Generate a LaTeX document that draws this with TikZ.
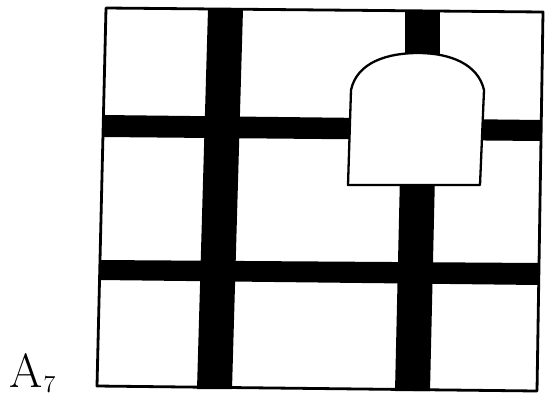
\documentclass[tikz,border=0pt]{standalone}
\begin{document}
\begin{tikzpicture}[x=1pt,y=-1pt,
  bar/.style={fill=black,draw=none},
  outline/.style={draw=black,line width=2.8pt,line join=round}]
\useasboundingbox (0,0) rectangle (545,400);
% frame interior
\fill[white] (106,8) -- (543,12) -- (537,391) -- (97,386) -- cycle;
% bars
\fill[bar] (208,9) -- (243,9) -- (232,389) -- (197,389) -- cycle;
\fill[bar] (405,10) -- (440,10) -- (440,70) -- (405,70) -- cycle;
\fill[bar] (400,175) -- (435,175) -- (430,391) -- (395,391) -- cycle;
\fill[bar] (103,115) -- (542,120) -- (541,141) -- (103,137) -- cycle;
\fill[bar] (99,260) -- (540,263) -- (539,285) -- (99,280) -- cycle;
% arch
\draw[fill=white,draw=black,line width=2.3pt,line join=round]
  (348,185) -- (351,90) .. controls (357,62) and (388,53) .. (418,53)
  .. controls (450,53) and (478,64) .. (484,90) -- (480,185) -- cycle;
% frame
\draw[outline] (106,8) -- (543,12) -- (537,391) -- (97,386) -- cycle;
% label
\node[anchor=base west,inner sep=0pt] (lbl) at (9,387)
  {\fontsize{48}{48}\selectfont A\kern1pt{\fontsize{38}{38}\selectfont$\oldstylenums{7}$}};
\end{tikzpicture}
\end{document}
